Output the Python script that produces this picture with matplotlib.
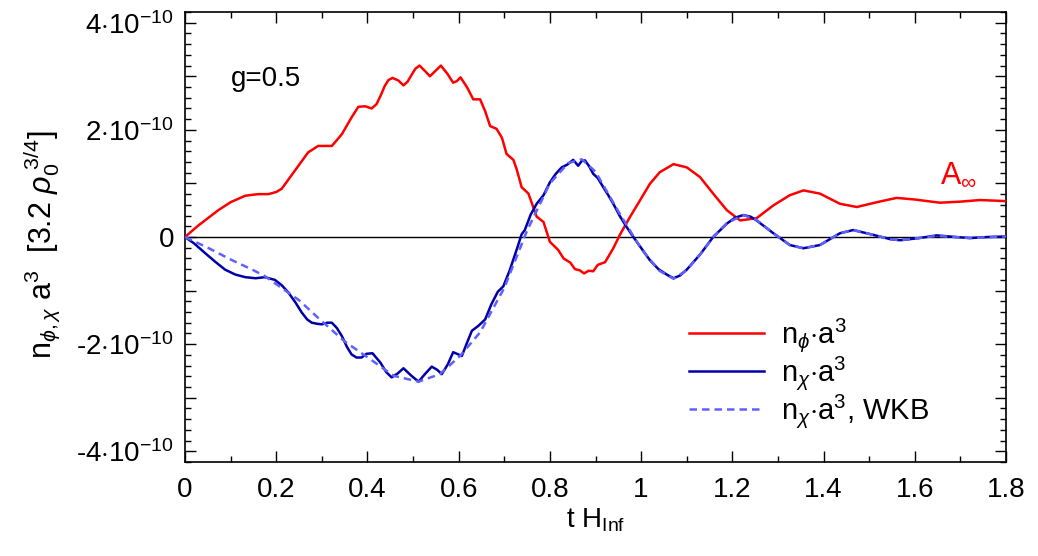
import numpy as np
import matplotlib
matplotlib.use("Agg")
import matplotlib.pyplot as plt
from matplotlib.ticker import MultipleLocator, FixedLocator, FixedFormatter

plt.rcParams["font.family"] = ["Liberation Sans", "DejaVu Sans"]
plt.rcParams["mathtext.fontset"] = "custom"
plt.rcParams["mathtext.rm"] = "Liberation Sans"
plt.rcParams["mathtext.it"] = "Liberation Sans:italic"
plt.rcParams["mathtext.sf"] = "Liberation Sans"

# values in units of 1e-10
t_phi = [0.000, 0.030, 0.073, 0.100, 0.132, 0.160, 0.183, 0.200, 0.212, 0.241,
         0.270, 0.292, 0.310, 0.322, 0.344, 0.365, 0.380, 0.395, 0.409, 0.420,
         0.430, 0.438, 0.446, 0.455, 0.468, 0.479, 0.488, 0.497, 0.505, 0.514,
         0.526, 0.537, 0.549, 0.561, 0.575, 0.588, 0.596, 0.604, 0.618, 0.632,
         0.647, 0.658, 0.669, 0.683, 0.695, 0.705, 0.720, 0.727, 0.738, 0.753,
         0.771, 0.786, 0.800, 0.818, 0.830, 0.845, 0.855, 0.865, 0.875, 0.885,
         0.895, 0.905, 0.921, 0.939, 0.954, 0.976, 0.998, 1.019, 1.041, 1.071,
         1.100, 1.129, 1.158, 1.188, 1.217, 1.253, 1.290, 1.326, 1.356, 1.392,
         1.436, 1.473, 1.517, 1.560, 1.600, 1.655, 1.700, 1.743, 1.800]
n_phi = [0.00, 0.22, 0.50, 0.65, 0.77, 0.80, 0.80, 0.84, 0.90, 1.24,
         1.58, 1.70, 1.70, 1.70, 1.92, 2.23, 2.43, 2.44, 2.40, 2.48,
         2.66, 2.82, 2.93, 2.97, 2.92, 2.83, 2.90, 3.03, 3.14, 3.20,
         3.10, 3.00, 3.10, 3.20, 3.05, 2.88, 2.91, 2.98, 2.80, 2.57,
         2.57, 2.35, 2.07, 2.02, 1.85, 1.55, 1.44, 1.27, 0.93, 0.81,
         0.38, 0.28, -0.09, -0.24, -0.40, -0.48, -0.60, -0.62, -0.68, -0.63,
         -0.64, -0.52, -0.47, -0.21, 0.05, 0.38, 0.69, 0.99, 1.21, 1.36,
         1.30, 1.12, 0.81, 0.50, 0.31, 0.35, 0.59, 0.78, 0.87, 0.81,
         0.62, 0.56, 0.65, 0.73, 0.70, 0.64, 0.66, 0.69, 0.67]

t_chi = [0.000, 0.020, 0.044, 0.066, 0.088, 0.110, 0.132, 0.155, 0.175, 0.197,
         0.212, 0.227, 0.242, 0.256, 0.268, 0.278, 0.290, 0.300, 0.312, 0.322,
         0.333, 0.344, 0.355, 0.365, 0.376, 0.387, 0.398, 0.411, 0.428, 0.441,
         0.453, 0.466, 0.479, 0.495, 0.512, 0.527, 0.541, 0.553, 0.563, 0.576,
         0.588, 0.607, 0.618, 0.629, 0.643, 0.658, 0.672, 0.686, 0.698, 0.712,
         0.727, 0.738, 0.745, 0.758, 0.771, 0.786, 0.800, 0.813, 0.826, 0.838,
         0.851, 0.862, 0.870, 0.877, 0.886, 0.895, 0.905, 0.917, 0.928, 0.939,
         0.954, 0.968, 0.983, 0.998, 1.019, 1.038, 1.056, 1.071, 1.085, 1.100,
         1.129, 1.158, 1.188, 1.206, 1.224, 1.240, 1.253, 1.290, 1.326, 1.356,
         1.392, 1.436, 1.465, 1.509, 1.546, 1.568, 1.610, 1.648, 1.690, 1.721,
         1.760, 1.800]
n_chi = [0.00, -0.12, -0.30, -0.46, -0.61, -0.70, -0.75, -0.77, -0.75, -0.80,
         -0.90, -1.04, -1.22, -1.41, -1.54, -1.60, -1.62, -1.63, -1.60, -1.60,
         -1.70, -1.85, -2.05, -2.19, -2.25, -2.25, -2.18, -2.17, -2.34, -2.52,
         -2.62, -2.55, -2.45, -2.58, -2.70, -2.55, -2.42, -2.48, -2.56, -2.38,
         -2.15, -2.22, -1.98, -1.75, -1.66, -1.54, -1.25, -1.02, -0.92, -0.62,
         -0.24, 0.05, 0.13, 0.42, 0.62, 0.78, 1.02, 1.18, 1.30, 1.35,
         1.44, 1.33, 1.42, 1.43, 1.32, 1.18, 1.10, 0.93, 0.78, 0.62,
         0.38, 0.19, 0.00, -0.18, -0.43, -0.60, -0.70, -0.77, -0.72, -0.61,
         -0.33, 0.00, 0.25, 0.36, 0.41, 0.38, 0.31, 0.07, -0.15, -0.21,
         -0.15, 0.07, 0.13, 0.04, -0.04, -0.06, -0.02, 0.03, 0.00, -0.02,
         0.00, 0.01]

t_wkb = [0.000, 0.050, 0.100, 0.150, 0.175, 0.200, 0.250, 0.292, 0.350, 0.406,
         0.457, 0.512, 0.559, 0.603, 0.647, 0.700, 0.750, 0.800, 0.840, 0.870,
         0.900, 0.950, 1.000, 1.040, 1.071, 1.100, 1.129, 1.158, 1.188, 1.224,
         1.253, 1.290, 1.326, 1.356, 1.392, 1.436, 1.465, 1.509, 1.546, 1.568,
         1.648, 1.721, 1.800]
n_wkb = [0.00, -0.20, -0.42, -0.62, -0.73, -0.88, -1.18, -1.51, -1.95, -2.28,
         -2.59, -2.70, -2.56, -2.22, -1.78, -0.95, 0.12, 1.00, 1.38, 1.45,
         1.22, 0.48, -0.22, -0.63, -0.78, -0.62, -0.33, 0.00, 0.26, 0.41,
         0.32, 0.07, -0.15, -0.21, -0.15, 0.07, 0.13, 0.04, -0.04, -0.06,
         0.02, -0.02, 0.01]

x_ticks = [0, 0.2, 0.4, 0.6, 0.8, 1.0, 1.2, 1.4, 1.6, 1.8]
x_labels = ["0", "0.2", "0.4", "0.6", "0.8", "1", "1.2", "1.4", "1.6", "1.8"]
y_ticks = [-4, -3, -2, -1, 0, 1, 2, 3, 4]
y_labels = [r"-4$\cdot$10$^{-10}$", "", r"-2$\cdot$10$^{-10}$", "", "0", "",
            r"2$\cdot$10$^{-10}$", "", r"4$\cdot$10$^{-10}$"]

fig = plt.figure(figsize=(10.38, 5.56), dpi=100)
ax = fig.add_axes([185 / 1038, 1 - 462 / 556, 821 / 1038, 450 / 556])

ax.axhline(0, color="black", lw=1.0, zorder=1)
ax.plot(t_phi, n_phi, color="#ff0000", lw=1.8, label=r"n$_{\phi}$$\cdot$a$^3$", zorder=3)
ax.plot(t_chi, n_chi, color="#0000a8", lw=1.8, label=r"n$_{\chi}$$\cdot$a$^3$", zorder=4)
ax.plot(t_wkb, n_wkb, color="#6060ff", lw=1.8, ls=(0, (3, 2)),
        label=r"n$_{\chi}$$\cdot$a$^3$, WKB", zorder=5)

ax.set_xlim(0, 1.8)
ax.set_ylim(-4.2, 4.2)
ax.xaxis.set_major_locator(FixedLocator(x_ticks))
ax.xaxis.set_major_formatter(FixedFormatter(x_labels))
ax.xaxis.set_minor_locator(MultipleLocator(0.1))
ax.yaxis.set_major_locator(FixedLocator(y_ticks))
ax.yaxis.set_major_formatter(FixedFormatter(y_labels))
ax.yaxis.set_minor_locator(MultipleLocator(0.2))
ax.tick_params(which="both", direction="in", top=True, right=True, labelsize=20)
ax.tick_params(which="major", length=8, width=1.0, pad=8)
ax.tick_params(which="minor", length=4, width=1.0)
ax.tick_params(axis="x", pad=11)
for s in ax.spines.values():
    s.set_linewidth(1.2)

ax.text(0.10, 2.95, "g=0.5", fontsize=20, va="center")
ax.text(1.655, 1.15, r"A$_{\infty}$", fontsize=22, color="#ff0000", va="center")

leg = ax.legend(loc="upper left", bbox_to_anchor=(0.60, 0.35), frameon=False,
                fontsize=21, handlelength=2.55, handletextpad=0.6,
                labelspacing=0.0, borderaxespad=0)

fig.text(42 / 1038, 1 - 245 / 556, r"n$_{\phi,\chi}$ a$^3$  [3.2 $\rho_0^{\;3/4}$]",
         rotation=90, ha="center", va="center", fontsize=22)
fig.text(596 / 1038, 1 - 520 / 556, r"t H$_{\rm Inf}$", ha="center", va="center", fontsize=20)

fig.savefig("out.png", dpi=100)
